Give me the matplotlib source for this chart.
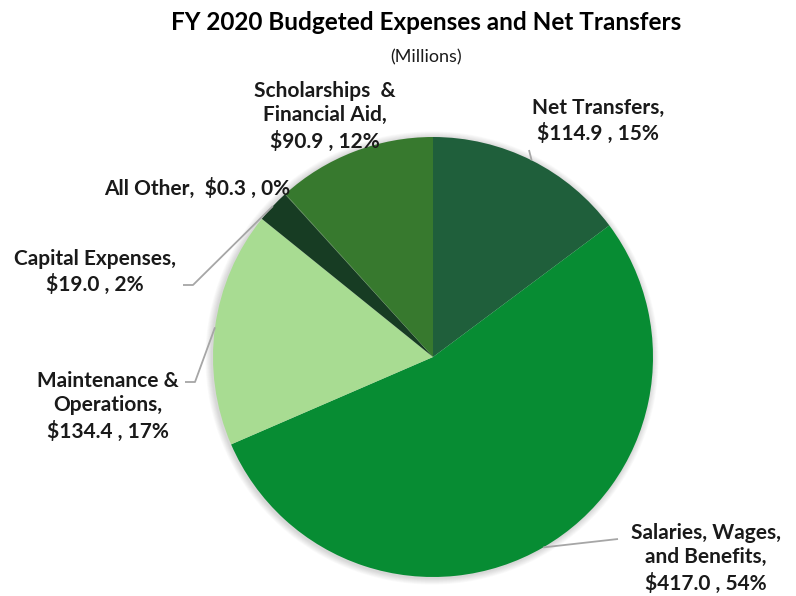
import numpy as np
import matplotlib
matplotlib.use("Agg")
import matplotlib.pyplot as plt
from matplotlib.patches import Circle

plt.rcParams['font.family'] = ['Lato', 'DejaVu Sans']

# data (clockwise from 12 o'clock)
categories = ["Net Transfers", "Salaries, Wages, and Benefits", "Maintenance & Operations",
              "Capital Expenses", "All Other", "Scholarships & Financial Aid"]
amounts = [114.9, 417.0, 134.4, 19.0, 0.3, 90.9]
pcts = ["15%", "54%", "17%", "2%", "0%", "12%"]
colors = ["#1f5f3b", "#078c33", "#a8dc92", "#173c23", "#2f6a2a", "#37792e"]

label_text = [
    "Net Transfers,\n$114.9 , 15%",
    "Salaries, Wages,\nand Benefits,\n$417.0 , 54%",
    "Maintenance &\nOperations,\n$134.4 , 17%",
    "Capital Expenses,\n$19.0 , 2%",
    "All Other,  $0.3 , 0%",
    "Scholarships  &\nFinancial Aid,\n$90.9 , 12%",
]

W, H = 796, 596
fig = plt.figure(figsize=(W / 100, H / 100), dpi=100)
ax = fig.add_axes([0, 0, 1, 1])

def P(x, y):
    # image pixel (from top) -> data coords
    return x, H - y

cx, cy = P(433, 357)
R = 220

# soft shadow like excel
for k in range(8):
    ax.add_patch(Circle((cx - 1, cy - 1), R + 1 + k * 0.8, color='black',
                        alpha=0.018, lw=0, zorder=0))

wedges, _ = ax.pie(amounts, colors=colors, startangle=90, counterclock=False,
                   center=(cx, cy), radius=R, frame=True,
                   wedgeprops=dict(linewidth=0))
ax.set_xlim(0, W)
ax.set_ylim(0, H)
ax.set_aspect('equal')
ax.axis('off')

def anchor(i):
    w = wedges[i]
    a = np.deg2rad((w.theta1 + w.theta2) / 2)
    return cx + R * np.cos(a), cy + R * np.sin(a)

# label positions (image pixels) and leader elbow points
label_pos = [(598, 121), (706, 558), (108, 406), (95, 272), (197, 188), (325, 116)]
leaders = {
    0: [P(529, 150)],
    1: [P(618, 539)],
    2: [P(195, 382), P(185, 382)],
    3: [P(193, 285), P(183, 285)],
}

lc = "#a6a6a6"
for i, pts in leaders.items():
    ax_, ay_ = anchor(i)
    xs = [ax_] + [p[0] for p in pts]
    ys = [ay_] + [p[1] for p in pts]
    ax.plot(xs, ys, color=lc, lw=1.3, zorder=3, solid_capstyle='butt')

for i, t in enumerate(label_text):
    x, y = P(*label_pos[i])
    ax.text(x, y, t, ha='center', va='center', fontsize=15, fontweight='bold',
            color='#1a1a1a', linespacing=1.3, zorder=4)

ax.text(*P(426, 22), "FY 2020 Budgeted Expenses and Net Transfers", ha='center',
        va='center', fontsize=17.5, fontweight='bold', color='black')
ax.text(*P(426, 57), "(Millions)", ha='center', va='center', fontsize=13,
        color='#1a1a1a')

fig.savefig("out.png", dpi=100, facecolor='white')
